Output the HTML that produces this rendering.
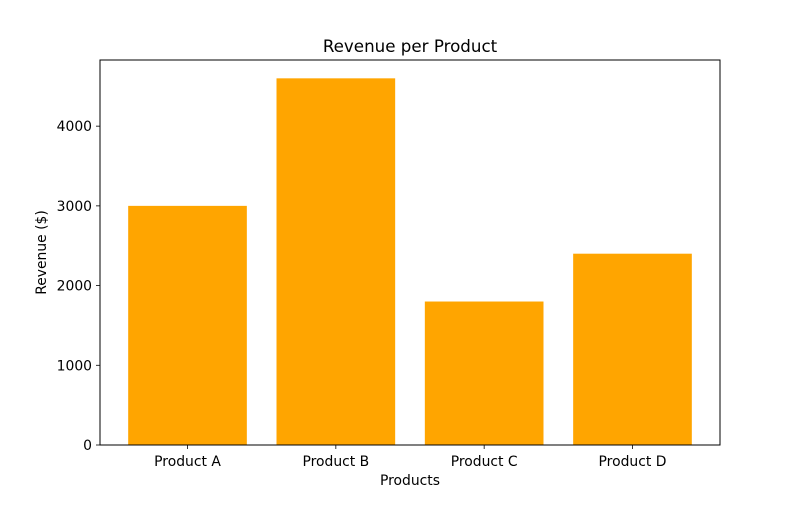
<!DOCTYPE html>
<html><head><meta charset="utf-8"><style>
body{margin:0;background:#fff;}
svg text{font-family:"DejaVu Sans","Liberation Sans",sans-serif;fill:#000;}
</style></head><body>
<svg id="chart" width="800" height="500" xmlns="http://www.w3.org/2000/svg">
<rect width="800" height="500" fill="#fff"/>
<text x="410" y="52" font-size="16.7" text-anchor="middle">Revenue per Product</text>
<g id="bars"></g>
<g id="axes"></g>
<text x="410" y="485" font-size="13.9" text-anchor="middle">Products</text>
<text transform="translate(46,252.5) rotate(-90)" font-size="13.9" text-anchor="middle">Revenue ($)</text>
</svg>
<script>
const categories = ["Product A","Product B","Product C","Product D"];
const revenues = [3000, 4600, 1800, 2400];
const yTicks = [0, 1000, 2000, 3000, 4000];

const L=100,R=720,T=60,B=445;
const yMax=Math.max(...revenues)*1.05;
const n=categories.length, bw=0.8;
const xmin=-bw/2-0.05*(n-1+bw), xmax=n-1+bw/2+0.05*(n-1+bw);
const xs=v=>L+(v-xmin)/(xmax-xmin)*(R-L);
const ys=v=>B-v/yMax*(B-T);
const NS="http://www.w3.org/2000/svg";
function mk(tag,attrs,parent){const e=document.createElementNS(NS,tag);for(const k in attrs)e.setAttribute(k,attrs[k]);parent.appendChild(e);return e;}
const bars=document.getElementById('bars'), axes=document.getElementById('axes');
categories.forEach((c,i)=>{
  const r=mk('rect',{x:xs(i-bw/2),y:ys(revenues[i]),width:xs(i+bw/2)-xs(i-bw/2),height:B-ys(revenues[i]),fill:'#ffa500'},bars);
  
  
  const t=mk('line',{x1:xs(i),x2:xs(i),y1:B,y2:B+4,stroke:'#000','stroke-width':0.8},axes);
  
  
  const l=mk('text',{x:xs(i),y:B+21,'font-size':13.9,'text-anchor':'middle'},axes);
  l.textContent=c;
  
  
});
yTicks.forEach(v=>{
  const t=mk('line',{x1:L-4,x2:L,y1:ys(v),y2:ys(v),stroke:'#000','stroke-width':0.8},axes);
  
  
  const l=mk('text',{x:L-8,y:ys(v)+5,'font-size':13.9,'text-anchor':'end'},axes);
  l.textContent=v;
  
  
});
const f=mk('rect',{x:L,y:T,width:R-L,height:B-T,fill:'none',stroke:'#000','stroke-width':1},axes);


</script>
</body></html>
